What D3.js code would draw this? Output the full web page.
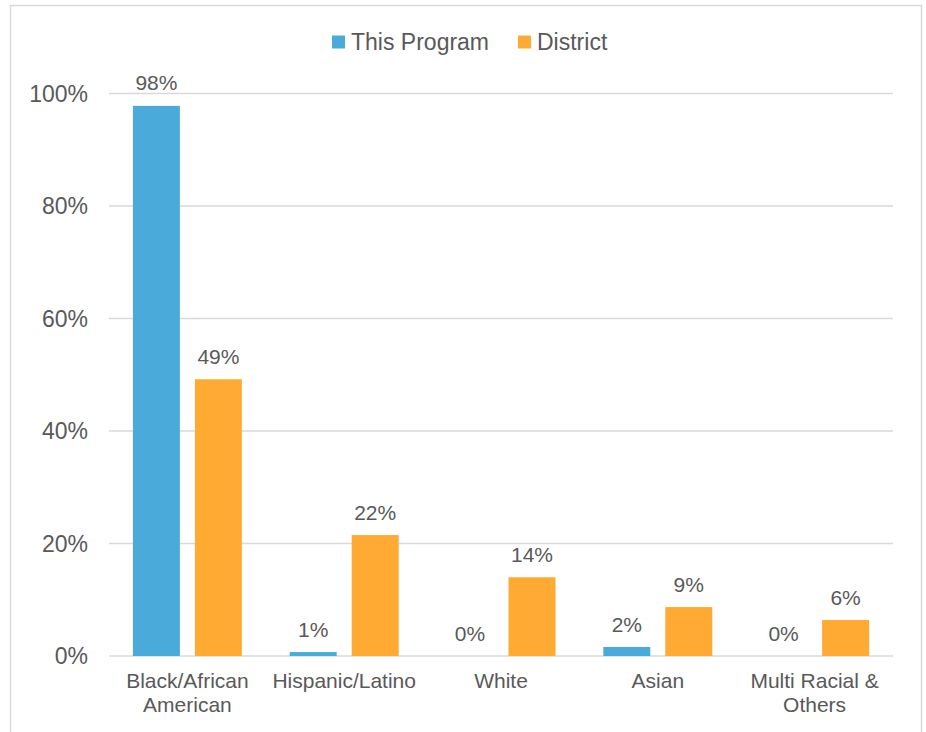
<!DOCTYPE html>
<html>
<head>
<meta charset="utf-8">
<script src="https://cdn.jsdelivr.net/npm/d3@7"></script>
<style>
  body { margin: 0; background: #fff; }
  svg text { font-family: "Liberation Sans", Arial, sans-serif; fill: #595959; }
</style>
</head>
<body>
<svg id="chart" width="926" height="732"></svg>
<script>
// data
const categories = [['Black/African', 'American'], ['Hispanic/Latino'], ['White'], ['Asian'], ['Multi Racial &', 'Others']];
const seriesNames = ['This Program', 'District'];
const programValues = [0.978, 0.007, 0, 0.016, 0];
const districtValues = [0.492, 0.215, 0.140, 0.087, 0.064];
const yTicks = [0, 0.2, 0.4, 0.6, 0.8, 1];
const colors = ['#4aabdb', '#ffaa33'];

const svg = d3.select('#chart');

// outer frame
svg.append('rect').attr('x', 10.5).attr('y', 5.5).attr('width', 911).attr('height', 800)
    .attr('fill', 'none').attr('stroke', '#d9d9d9').attr('stroke-width', 1.5);

const x = d3.scaleBand().domain(d3.range(categories.length)).range([109, 893])
    .paddingInner(0.305).paddingOuter(0.1525);
const xs = d3.scaleBand().domain(d3.range(seriesNames.length)).range([0, x.bandwidth()])
    .paddingInner(0.242).paddingOuter(0);
const y = d3.scaleLinear().domain([0, 1]).range([656, 93.5]);

// gridlines
svg.append('g').selectAll('line').data(yTicks).join('line')
    .attr('x1', 109).attr('x2', 893)
    .attr('y1', d => y(d)).attr('y2', d => y(d))
    .attr('stroke', '#d9d9d9').attr('stroke-width', 1.3);

// y axis labels
svg.append('g').selectAll('text').data(yTicks).join('text')
    .attr('x', 88).attr('y', d => y(d)).attr('dy', '0.35em')
    .attr('text-anchor', 'end').style('font-size', '23px')
    .text(d3.format('.0%'));

const series = [programValues, districtValues];

series.forEach((vals, s) => {
    const g = svg.append('g');
    g.selectAll('rect').data(vals).join('rect')
        .attr('x', (d, i) => x(i) + xs(s))
        .attr('y', d => y(d))
        .attr('width', xs.bandwidth())
        .attr('height', d => y(0) - y(d))
        .attr('fill', colors[s]);
    g.selectAll('text').data(vals).join('text')
        .attr('x', (d, i) => x(i) + xs(s) + xs.bandwidth() / 2)
        .attr('y', d => y(d) - 15.5)
        .attr('text-anchor', 'middle').style('font-size', '21px')
        .text(d => Math.round(d * 100) + '%');
});

// category labels
const cat = svg.append('g').selectAll('text').data(categories).join('text')
    .attr('x', (d, i) => x(i) + x.bandwidth() / 2)
    .attr('y', 688)
    .attr('text-anchor', 'middle').style('font-size', '21px');
cat.selectAll('tspan').data(d => d).join('tspan')
    .attr('x', function() { return d3.select(this.parentNode).attr('x'); })
    .attr('dy', (d, i) => i === 0 ? 0 : 24)
    .text(d => d);

// legend
const legendX = [332, 518];
const legend = svg.append('g').selectAll('g').data(seriesNames).join('g');
legend.append('rect').attr('x', (d, i) => legendX[i]).attr('y', 35.5)
    .attr('width', 13).attr('height', 13).attr('fill', (d, i) => colors[i]);
legend.append('text').attr('x', (d, i) => legendX[i] + 19).attr('y', 50)
    .style('font-size', '23px').text(d => d);
</script>
</body>
</html>
